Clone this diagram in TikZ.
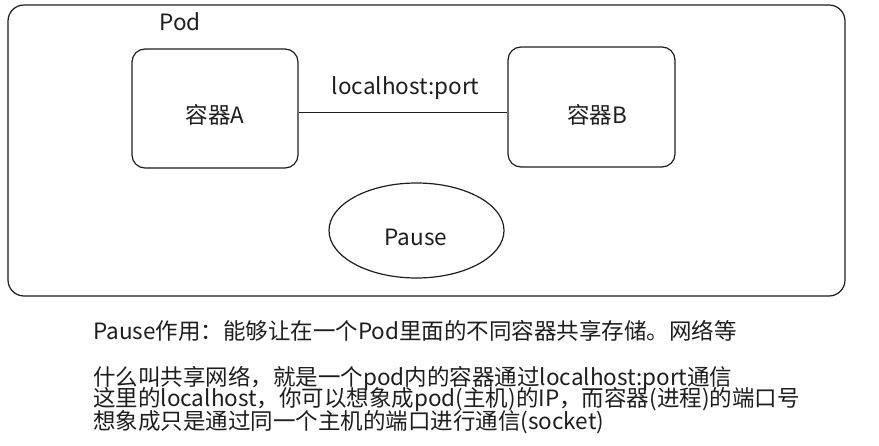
\documentclass[tikz,border=0pt]{standalone}
\usepackage{fontspec}
\setmainfont{Noto Sans CJK SC}
\usetikzlibrary{shapes.geometric}
\definecolor{ink}{HTML}{1E1E1E}
\begin{document}
\begin{tikzpicture}[x=1pt,y=-1pt,
  every node/.style={font=\fontsize{22.5}{23}\selectfont, text=ink, inner sep=0pt},
  box/.style={draw=ink, line width=1.2pt, rounded corners=13pt, minimum width=166pt, minimum height=119pt},
  podbox/.style={draw=ink, line width=1.2pt, rounded corners=16pt},
  link/.style={draw=ink, line width=1.2pt},
  txt/.style={anchor=west}]
\useasboundingbox[fill=white] (0,0) rectangle (879,446);
\draw[podbox] (8,5) rectangle (845,296);
\node (pod) at (180,22) {Pod};
\node[box] (A) at (215,108.5) {};
\node (At) at (215,115) {容器A};
\node[box, minimum width=167pt, minimum height=120pt] (B) at (591.5,107) {};
\node (Bt) at (597,115) {容器B};
\node (port) at (405.5,88) {localhost:port};
\draw[link] ([yshift=-4pt]A.east) -- ([yshift=-4pt]A.east -| B.west);
\node[draw=ink, line width=1.2pt, ellipse, minimum width=175pt, minimum height=95pt] (P) at (416.5,230.5) {};
\node (Pt) at (416,237) {Pause};
\node[txt] (l1) at (93,331) {Pause作用：能够让在一个Pod里面的不同容器共享存储。网络等};
\node[txt] (l2) at (93,378) {什么叫共享网络，就是一个pod内的容器通过localhost:port通信};
\node[txt] (l3) at (93,400) {这里的localhost，你可以想象成pod(主机)的IP，而容器(进程)的端口号};
\node[txt] (l4) at (93,422) {想象成只是通过同一个主机的端口进行通信(socket)};
\end{tikzpicture}
\end{document}
